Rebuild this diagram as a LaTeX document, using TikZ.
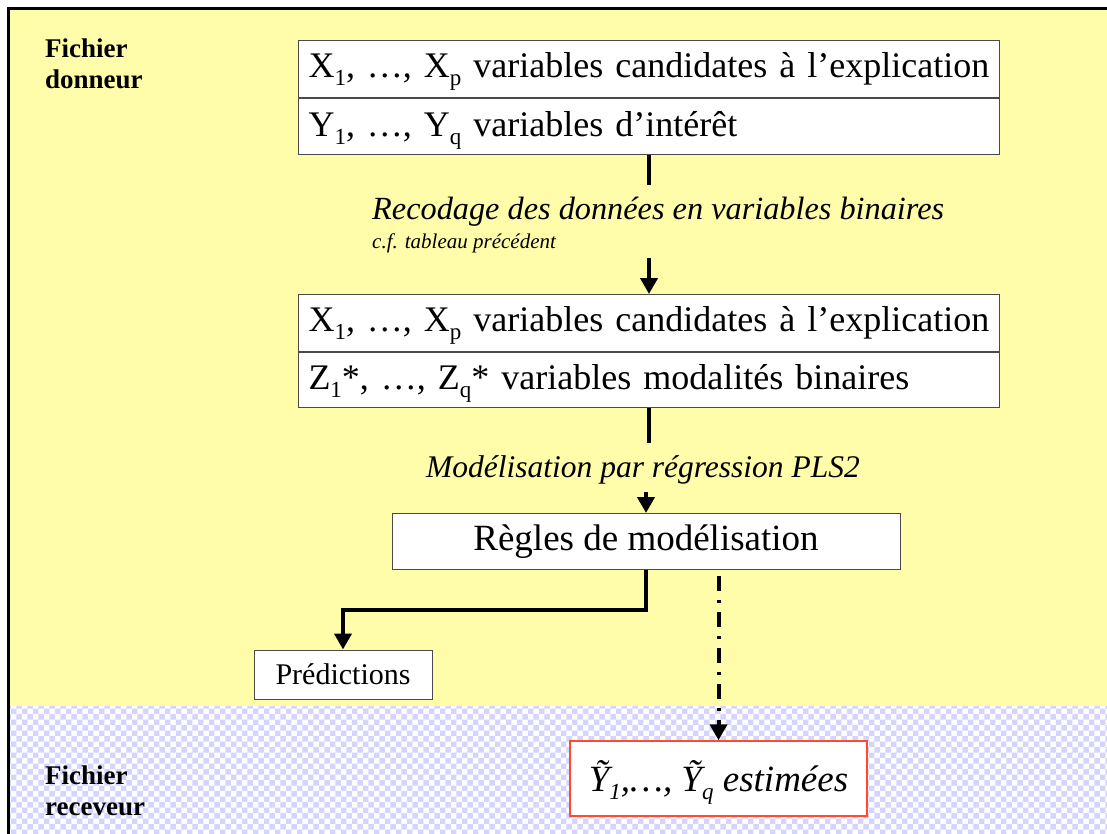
\documentclass[tikz,border=0pt]{standalone}
\usepackage{fontspec}
\setmainfont{Liberation Serif}
\usetikzlibrary{arrows.meta,patterns}
\definecolor{paleyellow}{HTML}{FFFCAA}
\definecolor{lavender}{HTML}{D4D4FF}
\definecolor{framegray}{HTML}{4A4A4A}
\definecolor{estimred}{HTML}{FF4B2B}
% lowered index in the current text font
\newcommand\idx[1]{\raisebox{-0.22em}[0pt][0pt]{\fontsize{23}{23}\selectfont #1}}

\begin{document}
\begin{tikzpicture}[x=1pt,y=-1pt,
  databox/.style={draw=framegray, line width=1pt, fill=white, inner ysep=0pt,
    inner xsep=10pt, text width=681pt, align=left, minimum height=57pt,
    font=\fontsize{36}{40}\selectfont, anchor=north west},
  rulebox/.style={draw=framegray, line width=1pt, fill=white, inner sep=0pt,
    minimum width=508pt, minimum height=56pt, font=\fontsize{37}{40}\selectfont},
  predbox/.style={draw=framegray, line width=1pt, fill=white, inner sep=0pt,
    minimum width=178pt, minimum height=49pt, font=\fontsize{30}{32}\selectfont},
  estbox/.style={draw=estimred, line width=1.5pt, fill=white, inner sep=0pt,
    minimum width=297pt, minimum height=75pt, font=\fontsize{37}{40}\selectfont\itshape},
  steplabel/.style={anchor=west, inner sep=0pt, font=\fontsize{32.3}{34}\selectfont\itshape},
  notelabel/.style={anchor=west, inner sep=0pt, font=\fontsize{21}{23}\selectfont\itshape},
  filelabel/.style={anchor=west, inner sep=0pt, align=left,
    font=\fontsize{27}{31}\selectfont\bfseries},
  link/.style={line width=4pt, black},
  arrowlink/.style={link, -{Triangle[width=17pt,length=16pt]}},
  dashlink/.style={arrowlink, dash pattern=on 15pt off 9pt on 3pt off 9pt}
]
\useasboundingbox (0,0) rectangle (1107,834);

% background zones
\fill[paleyellow] (10,9) rectangle (1107,706);
\fill[white] (10,706) rectangle (1107,834);
\fill[pattern=checkerboard, pattern color=lavender] (10,706) rectangle (1107,834);
\draw[line width=3pt, black] (8.5,834) -- (8.5,8.5) -- (1107,8.5);

% side titles
\node[filelabel] (donneur) at (45,64) {Fichier\\donneur};
\node[filelabel] (receveur) at (45,791) {Fichier\\receveur};

% donor file variables
\node[databox] (a1) at (298,40)
  {\mbox{X\idx{1}, …, X\idx{p} variables candidates à l’explication}};
\node[databox, minimum height=56pt] (a2) at (a1.south west)
  {\mbox{Y\idx{1}, …, Y\idx{q} variables d’intérêt}};

% recoding step
\coordinate (a2end) at (649,185);
\draw[link] (a2.south) -- (a2end);
\node[steplabel] (recode) at (372,212) {Recodage des données en variables binaires};
\node[notelabel] (note) at (372,243) {c.f. tableau précédent};
\coordinate (b1start) at (649,258);

% recoded variables
\node[databox] (b1) at (298,294)
  {\mbox{X\idx{1}, …, X\idx{p} variables candidates à l’explication}};
\node[databox, minimum height=55pt] (b2) at (b1.south west)
  {\mbox{Z\idx{1}*, …, Z\idx{q}* variables modalités binaires}};
\draw[arrowlink] (b1start) -- (b1.north);

% modelling step
\coordinate (b2end) at (649,443);
\draw[link] (b2.south) -- (b2end);
\node[steplabel, anchor=center, font=\fontsize{31.5}{34}\selectfont\itshape] (model) at (643,470)
  {Modélisation par régression PLS2};
\node[rulebox] (rules) at (646,541.5) {Règles de modélisation};
\coordinate (rstart) at (646,492);
\draw[arrowlink] (rstart) -- (rules.north);

% predictions
\node[predbox] (pred) at (343,674.5) {Prédictions};
\draw[arrowlink, line join=miter] (rules.south) |- ++(0,40) -| (pred.north);

% estimates in the receiving file
\node[estbox] (est) at (718.5,778.5)
  {Ỹ\idx{1},…,\ Ỹ\idx{q} estimées};
\draw[dashlink] ([yshift=-6pt]rules.south -| est.north) -- (est.north);
\end{tikzpicture}
\end{document}
